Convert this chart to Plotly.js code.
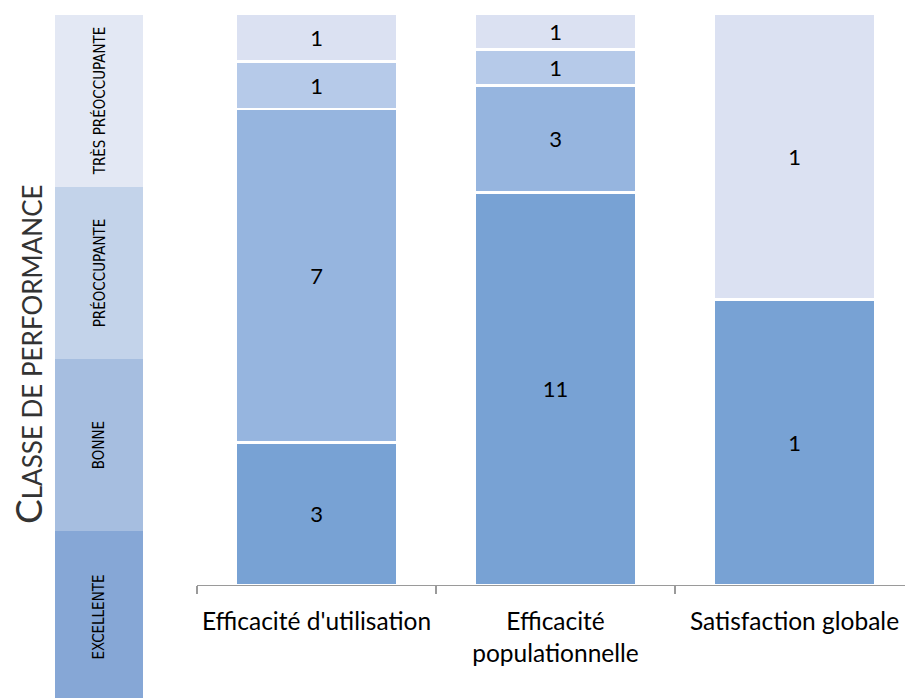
<!DOCTYPE html>
<html>
<head>
<meta charset="utf-8">
<script src="https://cdn.plot.ly/plotly-3.0.1.min.js"></script>
<style>html,body{margin:0;padding:0;background:#fff;}#chart{width:905px;height:698px;}</style>
</head>
<body>
<div id="chart"></div>
<script>
// Categories (x axis)
const categories = ["Efficacité d'utilisation", "Efficacité populationnelle", "Satisfaction globale"];
const tickLabels = ["Efficacité d'utilisation", "Efficacité<br>populationnelle", "Satisfaction globale"];

// Performance classes (bottom to top)
const classes = ["Excellente", "Bonne", "Préoccupante", "Très préoccupante"];
const classLabels = ["EXCELLENTE", "BONNE", "PRÉOCCUPANTE", "TRÈS PRÉOCCUPANTE"];

// Counts per class for each category
const excellente       = [3, 11, 1];
const bonne            = [7, 3, 0];
const preoccupante     = [1, 1, 0];
const tresPreoccupante = [1, 1, 1];

// Scale segments (one unit each)
const scaleUnits = [1, 1, 1, 1];

const barColors   = ["#78A2D4", "#96B5DF", "#B6CAE9", "#DBE1F2"];
const scaleColors = ["#86A7D6", "#A6BEE0", "#C3D3EA", "#E3E8F4"];

const series = [excellente, bonne, preoccupante, tresPreoccupante];

const traces = [];
series.forEach((vals, i) => {
  traces.push({
    type: 'bar',
    name: classes[i],
    x: categories,
    y: vals,
    text: vals.map(v => v ? String(v) : ''),
    texttemplate: '%{text}',
    textposition: 'inside',
    insidetextanchor: 'middle',
    constraintext: 'none',
    textfont: {family: 'Lato, "Open Sans", sans-serif', size: 22, color: '#000'},
    marker: {color: barColors[i], line: {color: '#ffffff', width: 2.5}},
    xaxis: 'x', yaxis: 'y',
    hoverinfo: 'skip'
  });
});

classLabels.forEach((lab, i) => {
  traces.push({
    type: 'bar',
    name: lab,
    x: [0],
    y: [scaleUnits[i]],
    width: [1],
    text: [lab],
    texttemplate: '%{text}',
    textposition: 'inside',
    insidetextanchor: 'middle',
    textangle: -90,
    constraintext: 'none',
    textfont: {family: '"Liberation Sans Narrow", "DejaVu Sans Condensed", sans-serif', size: 15, color: '#000'},
    marker: {color: scaleColors[i], line: {width: 0}},
    xaxis: 'x2', yaxis: 'y2',
    hoverinfo: 'skip'
  });
});

const layout = {
  width: 905, height: 698,
  margin: {l: 0, r: 0, t: 14, b: 0},
  paper_bgcolor: '#fff', plot_bgcolor: 'rgba(0,0,0,0)',
  showlegend: false,
  barmode: 'stack',
  barnorm: 'percent',
  bargap: 0.326,
  font: {family: 'Lato, "Open Sans", sans-serif', color: '#000'},
  xaxis: {
    domain: [197/905, 1],
    type: 'category',
    range: [-0.5, -0.5 + 708/239],
    tickmode: 'array',
    tickvals: categories,
    ticktext: tickLabels,
    tickson: 'boundaries',
    ticks: 'outside', ticklen: 8, tickcolor: '#9a9a9a', tickwidth: 1.3,
    showline: true, linecolor: '#9a9a9a', linewidth: 1.3,
    showgrid: false, zeroline: false,
    tickfont: {family: 'Lato, "Open Sans", sans-serif', size: 24.5, color: '#000'},
    ticklabelstandoff: 14
  },
  yaxis: {
    domain: [(698-585)/684, 1],
    range: [0, 100],
    showticklabels: false, showgrid: false, zeroline: false, showline: false, ticks: ''
  },
  xaxis2: {
    domain: [55/905, 143/905],
    range: [-0.5, 0.5],
    anchor: 'y2',
    showticklabels: false, showgrid: false, zeroline: false, showline: false, ticks: ''
  },
  yaxis2: {
    domain: [0, 1],
    anchor: 'x2',
    range: [100.15 - 684*25/172, 100.15],
    showticklabels: false, showgrid: false, zeroline: false, showline: false, ticks: ''
  },
  annotations: [{
    xref: 'paper', yref: 'paper',
    x: 27/905, y: (698-354)/684,
    xanchor: 'center', yanchor: 'middle',
    textangle: -90, showarrow: false,
    text: "C<span style='font-size:26px'>LASSE DE PERFORMANCE</span>",
    font: {family: 'Lato, "Open Sans", sans-serif', size: 37, color: '#333'}
  }]
};

Plotly.newPlot('chart', traces, layout, {staticPlot: true, displayModeBar: false});
</script>
</body>
</html>
